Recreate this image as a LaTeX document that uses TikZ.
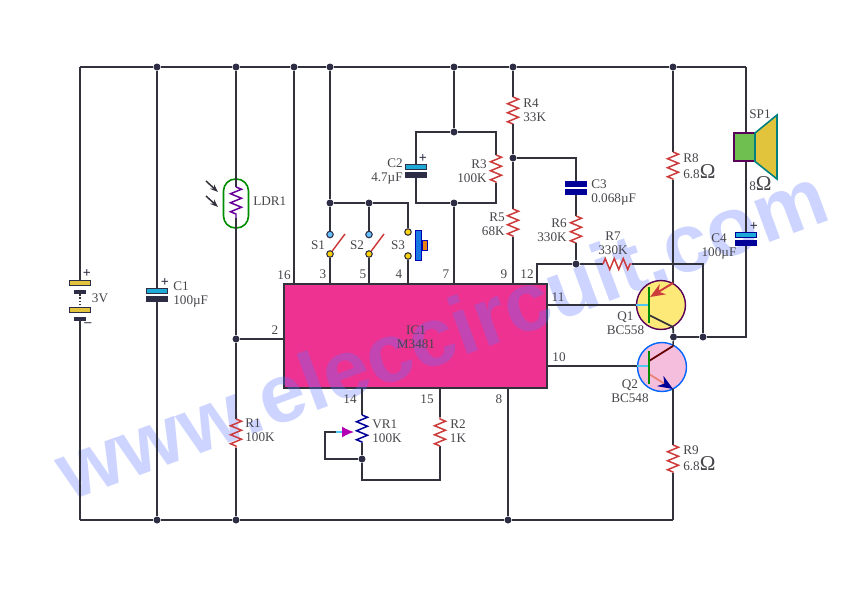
\documentclass[tikz,border=0pt]{standalone}
\usepackage{fontspec}
\setmainfont{Liberation Serif}
\newfontfamily\markfont{Liberation Sans}
\usetikzlibrary{arrows.meta,decorations.pathmorphing}
\definecolor{wirecol}{RGB}{50,50,60}
\definecolor{textcol}{RGB}{70,70,75}
\definecolor{icpink}{RGB}{238,50,145}
\definecolor{capblue}{RGB}{30,170,215}
\definecolor{batyel}{RGB}{225,195,60}
\definecolor{darkplate}{RGB}{45,45,70}
\definecolor{resred}{RGB}{205,60,60}
\definecolor{emitpink}{RGB}{235,130,120}
\definecolor{qyellow}{RGB}{253,233,120}
\definecolor{qpink}{RGB}{245,190,220}
\definecolor{spgreen}{RGB}{110,190,80}
\definecolor{markblue}{RGB}{90,115,255}
\tikzset{
    wire/.style={draw=wirecol, line width=0.85pt},
    dot/.style={circle, fill=darkplate, minimum size=0.14cm, inner sep=0pt},
    lbl/.style={text=textcol, font=\fontsize{7.5}{8}\selectfont, inner sep=0pt, align=left},
    rbl/.style={lbl, align=right},
    cbl/.style={lbl, align=center},
    res/.style={line width=0.85pt, decorate, decoration={zigzag, segment length=0.18cm, amplitude=0.11cm}},
    plate/.style={draw=darkplate, line width=0.5pt, minimum width=0.42cm, minimum height=0.1cm, inner sep=0pt},
    cyanplate/.style={plate, fill=capblue},
    darkcap/.style={plate, fill=darkplate},
    blueplate/.style={plate, draw=blue!60!black, fill=blue!60!black},
    ring/.style={circle, draw=darkplate, line width=0.6pt, minimum size=0.13cm, inner sep=0pt},
    tbar/.style={draw=green!55!black, line width=1.2pt},
    sign/.style={text=darkplate, font=\bfseries\fontsize{8}{8}\selectfont, inner sep=0pt}
}
\begin{document}
\begin{tikzpicture}[x=0.02cm,y=-0.02cm]
    \fill[white] (0,0) rectangle (850,592);
    \useasboundingbox (0,0) rectangle (850,592);

    % chip first, watermark lies over it
    \node[draw=wirecol, line width=0.9pt, fill=icpink, minimum width=5.26cm, minimum height=2.08cm, inner sep=0pt] (ic) at (415.5,336) {};
    \node[rotate=20.3, text=markblue, opacity=0.3, font=\markfont\bfseries\fontsize{47}{47}\selectfont, inner sep=0pt] (mark) at (441,333) {www.eleccircuit.com};
    \node[cbl] (iclabel) at (416,337) {IC1\\M3481};

    % rails
    \coordinate (tl) at (80,67);
    \coordinate (tr) at (746,67);
    \coordinate (bl) at (80,520);
    \coordinate (br) at (673,520);
    \node[dot] (t1) at (157,67) {};
    \node[dot] (t2) at (236,67) {};
    \node[dot] (t3) at (294,67) {};
    \node[dot] (t4) at (330,67) {};
    \node[dot] (t5) at (454,67) {};
    \node[dot] (t6) at (513,67) {};
    \node[dot] (t7) at (673,67) {};
    \node[dot] (b1) at (157,520) {};
    \node[dot] (b2) at (236,520) {};
    \node[dot] (b3) at (508,520) {};
    \draw[wire] (tl) -- (t1) -- (t2) -- (t3) -- (t4) -- (t5) -- (t6) -- (t7) -- (tr);
    \draw[wire] (bl) -- (b1) -- (b2) -- (b3) -- (br);

    % battery
    \node[plate, fill=batyel] (bat1) at (80,283) {};
    \node[plate, fill=darkplate, minimum width=0.22cm, minimum height=0.07cm] (bat2) at (80,292) {};
    \node[plate, fill=batyel] (bat3) at (80,310) {};
    \node[plate, fill=darkplate, minimum width=0.22cm, minimum height=0.07cm] (bat4) at (80,319) {};
    \draw[wire] (tl) -- (bat1);
    \draw[wire, densely dotted] (bat2) -- (bat3);
    \draw[wire] (bat4) -- (bl);
    \node[sign] (batp) at (87,274) {+};
    \node[sign] (batm) at (88,325) {–};
    \node[lbl] (batv) at (100,298) {3V};

    % C1
    \node[cyanplate] (c1p) at (157,291) {};
    \node[darkcap] (c1m) at (157,299) {};
    \draw[wire] (t1) -- (c1p);
    \draw[wire] (c1m) -- (b1);
    \node[sign] (c1s) at (165,283) {+};
    \node[lbl, anchor=west] (c1l) at (173,295) {C1\\100µF};

    % LDR and R1
    \coordinate (ldra) at (236,187);
    \coordinate (ldrb) at (236,218);
    \node[dot] (j2) at (236,339) {};
    \coordinate (r1a) at (236,419);
    \coordinate (r1b) at (236,448);
    \draw[green!55!black, line width=0.9pt, rounded corners=0.24cm] (223.5,179) rectangle (248.5,228);
    \draw[wire] (t2) -- (ldra);
    \draw[res, draw=violet!80!blue] (ldra) -- (ldrb);
    \draw[wire] (ldrb) -- (j2);
    \draw[wire] (j2) -- (r1a);
    \draw[res, draw=resred] (r1a) -- (r1b);
    \draw[wire] (r1b) -- (b2);
    \coordinate (la1) at (206,181);
    \coordinate (la2) at (218,192);
    \coordinate (la3) at (206,196);
    \coordinate (la4) at (218,207);
    \draw[wire, -{Stealth[length=0.16cm,width=0.12cm]}] (la1) -- (la2);
    \draw[wire, -{Stealth[length=0.16cm,width=0.12cm]}] (la3) -- (la4);
    \node[lbl, anchor=west] (ldrl) at (253,201) {LDR1};
    \node[lbl, anchor=west] (r1l) at (245,430) {R1\\100K};

    % pin 16, pin 2
    \coordinate (p16) at (294,284);
    \coordinate (p2) at (284,339);
    \draw[wire] (t3) -- (p16);
    \draw[wire] (j2) -- (p2);
    \node[lbl] (n16) at (284,275) {16};
    \node[lbl] (n2) at (275,330) {2};

    % switches
    \node[dot] (j3) at (330,203) {};
    \node[dot] (j5) at (369,203) {};
    \coordinate (s3c) at (408,203);
    \node[ring, fill=blue!40!cyan!60] (s1a) at (330,234.5) {};
    \node[ring, fill=yellow!70!orange] (s1b) at (330,254) {};
    \node[ring, fill=blue!40!cyan!60] (s2a) at (369,234.5) {};
    \node[ring, fill=yellow!70!orange] (s2b) at (369,254) {};
    \node[ring, fill=yellow!70!orange] (s3a) at (408,232) {};
    \node[ring, fill=yellow!70!orange] (s3b) at (408,256) {};
    \coordinate (p3) at (330,284);
    \coordinate (p5) at (369,284);
    \coordinate (p4) at (408,284);
    \coordinate (s1t) at (345,234);
    \coordinate (s2t) at (384,234);
    \draw[wire] (t4) -- (j3) -- (s1a);
    \draw[wire] (j3) -- (j5) -- (s2a);
    \draw[wire] (j5) -- (s3c) -- (s3a);
    \draw[wire] (s1b) -- (p3);
    \draw[wire] (s2b) -- (p5);
    \draw[wire] (s3b) -- (p4);
    \draw[resred, line width=0.8pt] (s1b) -- (s1t);
    \draw[resred, line width=0.8pt] (s2b) -- (s2t);
    \node[draw=blue!70!black, fill=capblue!70!blue, minimum width=0.11cm, minimum height=0.6cm, inner sep=0pt] (s3k) at (418.5,245) {};
    \node[draw=blue!70!black, fill=orange!70!brown, minimum width=0.1cm, minimum height=0.2cm, inner sep=0pt, anchor=west] (s3h) at (s3k.east) {};
    \node[lbl] (s1l) at (318,245) {S1};
    \node[lbl] (s2l) at (357,245) {S2};
    \node[lbl] (s3l) at (398,245) {S3};
    \node[lbl] (n3) at (323,274) {3};
    \node[lbl] (n5) at (363,274) {5};
    \node[lbl] (n4) at (399,274) {4};

    % C2, R3 and pin 7
    \node[dot] (j7a) at (454,132) {};
    \node[dot] (j7b) at (454,203) {};
    \coordinate (p7) at (454,284);
    \coordinate (c2t) at (416,132);
    \coordinate (c2b) at (416,203);
    \coordinate (r3t) at (496,132);
    \coordinate (r3b) at (496,203);
    \coordinate (r3a) at (496,155);
    \coordinate (r3c) at (496,183);
    \node[cyanplate] (c2p) at (416,167) {};
    \node[darkcap] (c2m) at (416,175) {};
    \draw[wire] (t5) -- (j7a);
    \draw[wire] (j7a) -- (c2t) -- (c2p);
    \draw[wire] (c2m) -- (c2b) -- (j7b);
    \draw[wire] (j7a) -- (r3t) -- (r3a);
    \draw[res, draw=resred] (r3a) -- (r3c);
    \draw[wire] (r3c) -- (r3b) -- (j7b);
    \draw[wire] (j7b) -- (p7);
    \node[sign] (c2s) at (423,159) {+};
    \node[rbl, anchor=east] (c2l) at (403,171.5) {C2\\4.7µF};
    \node[rbl, anchor=east] (r3l) at (487,171.5) {R3\\100K};
    \node[lbl] (n7) at (446,274) {7};

    % R4, R5, C3, R6, R7
    \coordinate (r4a) at (513,97);
    \coordinate (r4b) at (513,124);
    \node[dot] (j9) at (513,158) {};
    \coordinate (r5a) at (513,209);
    \coordinate (r5b) at (513,237);
    \coordinate (p9) at (513,284);
    \coordinate (c3c) at (576,158);
    \node[blueplate] (c3p) at (576,184) {};
    \node[blueplate] (c3m) at (576,192) {};
    \coordinate (r6a) at (576,216);
    \coordinate (r6b) at (576,243);
    \node[dot] (j12) at (576,264) {};
    \coordinate (p12) at (537,284);
    \coordinate (p12c) at (537,264);
    \coordinate (r7a) at (603,264);
    \coordinate (r7b) at (632,264);
    \node[dot] (jfb) at (703,337) {};
    \coordinate (fbc) at (703,264);
    \draw[wire] (t6) -- (r4a);
    \draw[res, draw=resred] (r4a) -- (r4b);
    \draw[wire] (r4b) -- (j9) -- (r5a);
    \draw[res, draw=resred] (r5a) -- (r5b);
    \draw[wire] (r5b) -- (p9);
    \draw[wire] (j9) -- (c3c) -- (c3p);
    \draw[wire] (c3m) -- (r6a);
    \draw[res, draw=resred] (r6a) -- (r6b);
    \draw[wire] (r6b) -- (j12);
    \draw[wire] (p12) -- (p12c) -- (j12) -- (r7a);
    \draw[res, draw=resred] (r7a) -- (r7b);
    \draw[wire] (r7b) -- (fbc) -- (jfb);
    \node[lbl, anchor=west] (r4l) at (523,110) {R4\\33K};
    \node[rbl, anchor=east] (r5l) at (505,224) {R5\\68K};
    \node[lbl, anchor=west] (c3l) at (591,193) {C3\\0.068µF};
    \node[rbl, anchor=east] (r6l) at (567,230) {R6\\330K};
    \node[cbl] (r7l) at (613,243.5) {R7\\330K};
    \node[lbl] (n9) at (504,274) {9};
    \node[lbl] (n12) at (527,274) {12};

    % transistors
    \node[circle, draw=violet!70!black, line width=0.8pt, fill=qyellow, minimum size=0.98cm, inner sep=0pt] (q1) at (661,305) {};
    \node[circle, draw=blue!60!cyan, line width=0.8pt, fill=qpink, minimum size=0.98cm, inner sep=0pt] (q2) at (662,367) {};
    \coordinate (q1bar) at (649,305);
    \coordinate (q1bt) at (649,287);
    \coordinate (q1bb) at (649,323);
    \coordinate (q1e) at (673,283);
    \coordinate (q1et) at (650,297);
    \coordinate (q1cb) at (649,315);
    \coordinate (q1c) at (673,327);
    \coordinate (q2bar) at (649,366);
    \coordinate (q2bt) at (649,351);
    \coordinate (q2bb) at (649,384);
    \coordinate (q2cb) at (649,361);
    \coordinate (q2c) at (673,346);
    \coordinate (q2eb) at (649,374);
    \coordinate (q2e) at (673,389);
    \coordinate (r8a) at (673,152);
    \coordinate (r8b) at (673,180);
    \coordinate (r9a) at (673,445);
    \coordinate (r9b) at (673,473);
    \coordinate (p11) at (547,305);
    \coordinate (p10) at (547,366);
    \node[dot] (jq) at (673.5,337) {};
    \draw[wire] (t7) -- (r8a);
    \draw[res, draw=resred] (r8a) -- (r8b);
    \draw[wire] (r8b) -- (q1e);
    \draw[resred, line width=1.1pt, -{Stealth[length=0.3cm,width=0.24cm]}] (q1e) -- (q1et);
    \draw[wire, line width=1pt] (q1cb) -- (q1c) -- (jq);
    \draw[wire] (p11) -- (q1bar -| q1.west);
    \draw[cyan!70, line width=0.8pt] (q1bar -| q1.west) -- (q1bar);
    \draw[tbar] (q1bt) -- (q1bb);
    \draw[wire] (jq) -- (q2c);
    \draw[red!40!black, line width=1pt] (q2c) -- (q2cb);
    \draw[emitpink, line width=1pt, -{Stealth[length=0.3cm,width=0.24cm,color=blue!60!black]}] (q2eb) -- (q2e);
    \draw[wire] (p10) -- (q2bar -| q2.west);
    \draw[cyan!70, line width=0.8pt] (q2bar -| q2.west) -- (q2bar);
    \draw[tbar] (q2bt) -- (q2bb);
    \draw[wire] (q2e) -- (r9a);
    \draw[res, draw=resred] (r9a) -- (r9b);
    \draw[wire] (r9b) -- (br);
    \node[lbl, anchor=west] (r8l) at (683,166) {R8\\6.8{\large Ω}};
    \node[lbl, anchor=west] (r9l) at (683,458) {R9\\6.8{\large Ω}};
    \node[cbl] (q1l) at (625.5,323) {Q1\\BC558};
    \node[cbl] (q2l) at (630,391) {Q2\\BC548};
    \node[lbl] (n11) at (558,297) {11};
    \node[lbl] (n10) at (559,357) {10};

    % speaker and C4
    \node[draw=violet!70!black, line width=0.9pt, fill=spgreen, minimum width=0.42cm, minimum height=0.57cm, inner sep=0pt] (sp) at (744.5,147) {};
    \filldraw[draw=teal, line width=0.9pt, fill=batyel] (755,133) -- (777,115) -- (777,179) -- (755,161.5) -- cycle;
    \node[blueplate, fill=capblue] (c4p) at (746,235) {};
    \node[blueplate] (c4m) at (746,243) {};
    \draw[wire] (tr) -- (tr |- sp.north);
    \draw[wire] (tr |- sp.south) -- (c4p);
    \coordinate (c4c) at (746,337);
    \draw[wire] (c4m) -- (c4c) -- (jfb) -- (jq);
    \node[sign] (c4s) at (754,227) {+};
    \node[lbl, anchor=west] (spl) at (749,114) {SP1};
    \node[lbl, anchor=west] (spv) at (749,184) {8{\large Ω}};
    \node[cbl] (c4l) at (719,246.5) {C4\\100µF};

    % VR1, R2, pin 8
    \coordinate (p14) at (362,388);
    \coordinate (vra) at (362,415);
    \coordinate (vrb) at (362,443);
    \node[dot] (jv) at (362,459) {};
    \coordinate (vrc) at (362,480);
    \coordinate (r2c) at (440,480);
    \coordinate (r2b) at (440,446);
    \coordinate (r2a) at (440,417);
    \coordinate (p15) at (440,388);
    \coordinate (p8) at (508,388);
    \coordinate (vw1) at (325,459);
    \coordinate (vw2) at (325,432);
    \coordinate (vw3) at (336,432);
    \coordinate (vw4) at (354,432);
    \draw[wire] (p14) -- (vra);
    \draw[res, draw=blue!60!black] (vra) -- (vrb);
    \draw[wire] (vrb) -- (jv) -- (vrc) -- (r2c) -- (r2b);
    \draw[res, draw=resred] (r2b) -- (r2a);
    \draw[wire] (r2a) -- (p15);
    \draw[wire] (jv) -- (vw1) -- (vw2) -- (vw3);
    \draw[cyan!70, line width=0.8pt, -{Latex[length=0.24cm,width=0.22cm,color=violet!60!magenta]}] (vw3) -- (vw4);
    \draw[wire] (p8) -- (b3);
    \node[lbl, anchor=west] (vrl) at (372,431.5) {VR1\\100K};
    \node[cbl] (r2l) at (458,431.5) {R2\\1K};
    \node[lbl] (n14) at (350,399) {14};
    \node[lbl] (n15) at (427,399) {15};
    \node[lbl] (n8) at (499,399) {8};
\end{tikzpicture}
\end{document}
